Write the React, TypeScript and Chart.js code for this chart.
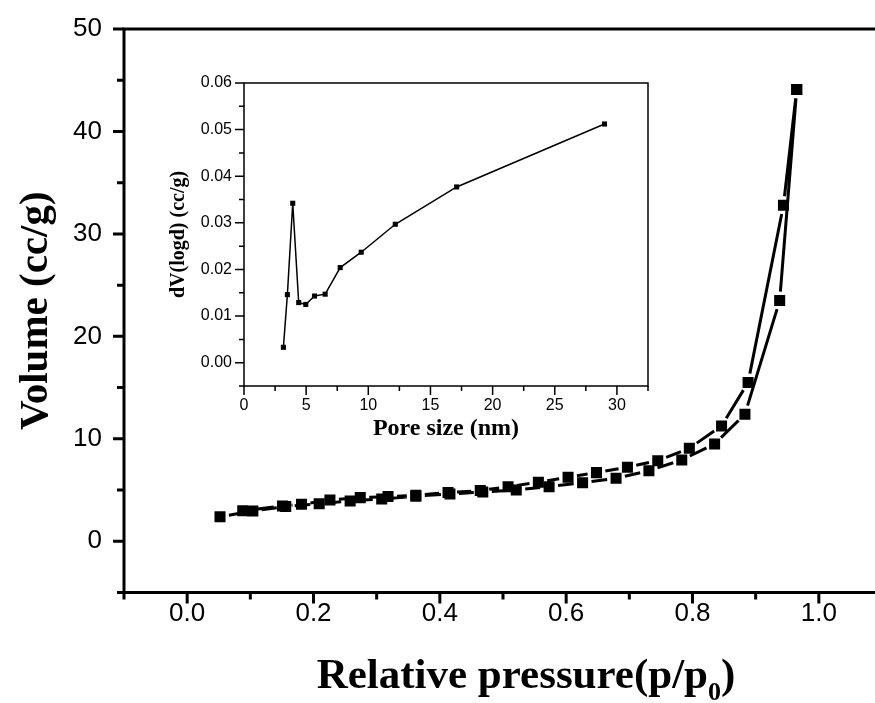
import React, { useEffect, useRef } from "react";
import { Chart, registerables } from "chart.js";

Chart.register(...registerables);

// ---------- Main isotherm data ----------
const adsorptionP = [0.052, 0.104, 0.156, 0.209, 0.258, 0.308, 0.362, 0.416, 0.468, 0.521, 0.573, 0.626, 0.679, 0.731, 0.783, 0.835, 0.883, 0.938, 0.965];
const adsorptionV = [2.4, 2.95, 3.4, 3.67, 3.94, 4.13, 4.4, 4.62, 4.8, 5.01, 5.33, 5.72, 6.15, 6.89, 7.94, 9.5, 12.4, 23.5, 44.1];
const desorptionP = [0.088, 0.151, 0.181, 0.226, 0.274, 0.318, 0.362, 0.413, 0.464, 0.508, 0.556, 0.603, 0.648, 0.697, 0.745, 0.795, 0.846, 0.888, 0.944, 0.965];
const desorptionV = [2.98, 3.45, 3.61, 4.03, 4.26, 4.36, 4.5, 4.75, 4.95, 5.33, 5.76, 6.25, 6.7, 7.23, 7.87, 9.08, 11.26, 15.5, 32.8, 44.1];

const mainXTicks = [0, 0.2, 0.4, 0.6, 0.8, 1.0];
const mainXMinor = [-0.1, 0.1, 0.3, 0.5, 0.7, 0.9, 1.1];
const mainYTicks = [0, 10, 20, 30, 40, 50];
const mainYMinor = [-5, 5, 15, 25, 35, 45];

// ---------- Inset pore size distribution ----------
const poreSize = [3.17, 3.49, 3.92, 4.4, 4.97, 5.67, 6.53, 7.74, 9.43, 12.17, 17.11, 29.0];
const poreDv = [0.0033, 0.0146, 0.0342, 0.0129, 0.0125, 0.0143, 0.0147, 0.0204, 0.0237, 0.0297, 0.0377, 0.0512];

const insetXTicks = [0, 5, 10, 15, 20, 25, 30];
const insetXMinor = [2.5, 7.5, 12.5, 17.5, 22.5, 27.5, 32.5];
const insetYTicks = [0, 0.01, 0.02, 0.03, 0.04, 0.05, 0.06];
const insetYMinor = [-0.005, 0.005, 0.015, 0.025, 0.035, 0.045, 0.055];

const SANS = '"Liberation Sans", Arial, sans-serif';
const SERIF = '"Liberation Serif", "Times New Roman", serif';

type FrameCfg = {
  id: string;
  boxWidth: number;
  tickWidth: number;
  majorLen: number;
  minorLen: number;
  xMajor: number[];
  xMinor: number[];
  yMajor: number[];
  yMinor: number[];
  gapLines?: { width: number; gap: number };
  yTitle: { text: string; size: number; x: number };
  xTitle: { parts: { text: string; sub?: boolean }[]; size: number; subSize: number; cx: number; y: number };
};

function framePlugin(cfg: FrameCfg) {
  return {
    id: cfg.id,
    beforeDatasetsDraw(chart: any) {
      if (!cfg.gapLines) return;
      const { ctx, scales } = chart;
      const x = scales.x;
      const y = scales.y;
      ctx.save();
      ctx.strokeStyle = "#000";
      ctx.lineWidth = cfg.gapLines.width;
      ctx.lineCap = "butt";
      const g = cfg.gapLines.gap;
      ctx.beginPath();
      chart.data.datasets.forEach((ds: any) => {
        const pts = ds.data.map((d: any) => [x.getPixelForValue(d.x), y.getPixelForValue(d.y)]);
        for (let i = 0; i < pts.length - 1; i++) {
          const [x1, y1] = pts[i];
          const [x2, y2] = pts[i + 1];
          const dx = x2 - x1;
          const dy = y2 - y1;
          const len = Math.hypot(dx, dy);
          if (len <= 2 * g + 1) continue;
          const ux = dx / len;
          const uy = dy / len;
          ctx.moveTo(x1 + ux * g, y1 + uy * g);
          ctx.lineTo(x2 - ux * g, y2 - uy * g);
        }
      });
      ctx.stroke();
      ctx.restore();
    },
    afterDraw(chart: any) {
      const { ctx, chartArea: a, scales } = chart;
      const x = scales.x;
      const y = scales.y;
      ctx.save();
      ctx.strokeStyle = "#000";
      ctx.fillStyle = "#000";
      ctx.lineCap = "butt";
      // frame
      ctx.lineWidth = cfg.boxWidth;
      ctx.strokeRect(a.left, a.top, a.right - a.left, a.bottom - a.top);
      // ticks
      ctx.lineWidth = cfg.tickWidth;
      ctx.beginPath();
      const xt = (vals: number[], len: number) => {
        for (const v of vals) {
          const px = x.getPixelForValue(v);
          ctx.moveTo(px, a.bottom);
          ctx.lineTo(px, a.bottom + len);
        }
      };
      const yt = (vals: number[], len: number) => {
        for (const v of vals) {
          const py = y.getPixelForValue(v);
          ctx.moveTo(a.left, py);
          ctx.lineTo(a.left - len, py);
        }
      };
      xt(cfg.xMajor, cfg.majorLen);
      xt(cfg.xMinor, cfg.minorLen);
      yt(cfg.yMajor, cfg.majorLen);
      yt(cfg.yMinor, cfg.minorLen);
      ctx.stroke();

      // y title
      ctx.save();
      ctx.translate(cfg.yTitle.x, (a.top + a.bottom) / 2);
      ctx.rotate(-Math.PI / 2);
      ctx.font = `bold ${cfg.yTitle.size}px ${SERIF}`;
      ctx.textAlign = "center";
      ctx.textBaseline = "middle";
      ctx.fillText(cfg.yTitle.text, 0, 0);
      ctx.restore();

      // x title (with optional subscript)
      const t = cfg.xTitle;
      const fontMain = `bold ${t.size}px ${SERIF}`;
      const fontSub = `bold ${t.subSize}px ${SERIF}`;
      let total = 0;
      const widths: number[] = [];
      for (const p of t.parts) {
        ctx.font = p.sub ? fontSub : fontMain;
        const w = ctx.measureText(p.text).width;
        widths.push(w);
        total += w;
      }
      let cx = t.cx - total / 2;
      ctx.textAlign = "left";
      ctx.textBaseline = "alphabetic";
      t.parts.forEach((p, i) => {
        ctx.font = p.sub ? fontSub : fontMain;
        ctx.fillText(p.text, cx, p.sub ? t.y + t.size * 0.28 : t.y);
        cx += widths[i];
      });
      ctx.restore();
    },
  };
}

function axisOpts(min: number, max: number, ticks: number[], size: number, padding: number, fmt: (v: number) => string, fit: (s: any) => void) {
  return {
    type: "linear",
    min,
    max,
    grid: { display: false, drawTicks: false },
    border: { display: false },
    afterBuildTicks: (s: any) => {
      s.ticks = ticks.map((v) => ({ value: v }));
    },
    afterFit: fit,
    ticks: {
      autoSkip: false,
      maxRotation: 0,
      padding,
      color: "#000",
      font: { family: SANS, size },
      callback: (v: any) => fmt(Number(v)),
    },
  };
}

function MainChart() {
  const ref = useRef<HTMLCanvasElement | null>(null);
  useEffect(() => {
    if (!ref.current) return;
    const plugin = framePlugin({
      id: "mainFrame",
      boxWidth: 3,
      tickWidth: 3,
      majorLen: 11,
      minorLen: 7,
      xMajor: mainXTicks,
      xMinor: mainXMinor,
      yMajor: mainYTicks,
      yMinor: mainYMinor,
      gapLines: { width: 3, gap: 9 },
      yTitle: { text: "Volume (cc/g)", size: 41, x: 36 },
      xTitle: {
        parts: [{ text: "Relative pressure(p/p" }, { text: "0", sub: true }, { text: ")" }],
        size: 43,
        subSize: 26,
        cx: 526,
        y: 688,
      },
    });
    const pointStyle = {
      showLine: false,
      borderColor: "#000",
      backgroundColor: "#000",
      pointStyle: "rect",
      pointRadius: 7.8,
      pointBorderWidth: 0,
    };
    const chart = new Chart(ref.current, {
      type: "scatter",
      data: {
        datasets: [
          { label: "Adsorption", data: adsorptionP.map((p, i) => ({ x: p, y: adsorptionV[i] })), ...pointStyle },
          { label: "Desorption", data: desorptionP.map((p, i) => ({ x: p, y: desorptionV[i] })), ...pointStyle },
        ],
      },
      options: {
        responsive: false,
        animation: false,
        devicePixelRatio: 1,
        layout: { padding: { top: 29, right: 8, left: 0, bottom: 0 } },
        plugins: { legend: { display: false }, tooltip: { enabled: false } },
        scales: {
          x: axisOpts(-0.1, 1.1, mainXTicks, 26, 6, (v) => v.toFixed(1), (s: any) => {
            s.height = 110.5;
            s.paddingLeft = 0;
            s.paddingRight = 0;
          }),
          y: axisOpts(-5, 50, mainYTicks, 26, 22, (v) => String(v), (s: any) => {
            s.width = 124;
            s.paddingTop = 0;
            s.paddingBottom = 0;
          }),
        },
      },
      plugins: [plugin],
    } as any);
    return () => chart.destroy();
  }, []);
  return <canvas ref={ref} width={890} height={703} style={{ position: "absolute", left: 0, top: 0, width: 890, height: 703 }} />;
}

function InsetChart() {
  const ref = useRef<HTMLCanvasElement | null>(null);
  useEffect(() => {
    if (!ref.current) return;
    const plugin = framePlugin({
      id: "insetFrame",
      boxWidth: 1.5,
      tickWidth: 1.5,
      majorLen: 9,
      minorLen: 5,
      xMajor: insetXTicks,
      xMinor: insetXMinor,
      yMajor: insetYTicks,
      yMinor: insetYMinor,
      yTitle: { text: "dV(logd) (cc/g)", size: 20, x: 29 },
      xTitle: { parts: [{ text: "Pore size (nm)" }], size: 24, subSize: 16, cx: 296, y: 385 },
    });
    const chart = new Chart(ref.current, {
      type: "scatter",
      data: {
        datasets: [
          {
            label: "PSD",
            data: poreSize.map((p, i) => ({ x: p, y: poreDv[i] })),
            showLine: true,
            borderColor: "#000",
            backgroundColor: "#000",
            borderWidth: 1.5,
            pointStyle: "rect",
            pointRadius: 3.6,
            pointBorderWidth: 0,
          },
        ],
      },
      options: {
        responsive: false,
        animation: false,
        devicePixelRatio: 1,
        layout: { padding: { top: 33, right: 22, left: 0, bottom: 0 } },
        plugins: { legend: { display: false }, tooltip: { enabled: false } },
        scales: {
          x: axisOpts(0, 32.5, insetXTicks, 16, 10, (v) => String(v), (s: any) => {
            s.height = 64;
            s.paddingLeft = 0;
            s.paddingRight = 0;
          }),
          y: axisOpts(-0.005, 0.06, insetYTicks, 16, 12, (v) => v.toFixed(2), (s: any) => {
            s.width = 94;
            s.paddingTop = 0;
            s.paddingBottom = 0;
          }),
        },
      },
      plugins: [plugin],
    } as any);
    return () => chart.destroy();
  }, []);
  return <canvas ref={ref} width={520} height={400} style={{ position: "absolute", left: 150, top: 50, width: 520, height: 400 }} />;
}

export default function App() {
  return (
    <div style={{ position: "absolute", left: 0, top: 0, width: 875, height: 703, overflow: "hidden", background: "#fff" }}>
      <MainChart />
      <InsetChart />
    </div>
  );
}
